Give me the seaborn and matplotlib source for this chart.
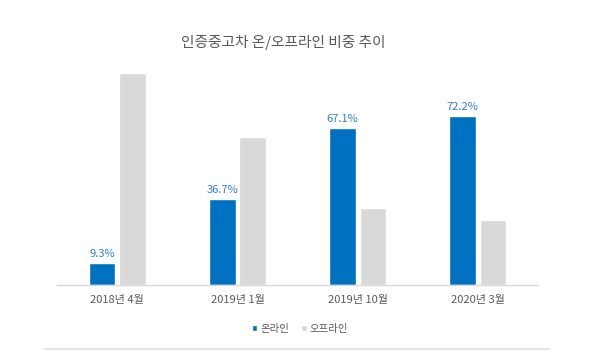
import pandas as pd
import matplotlib
matplotlib.use("Agg")
import matplotlib.pyplot as plt
from matplotlib.lines import Line2D
from matplotlib.patches import Patch
import seaborn as sns

# data
periods = ["2018년 4월", "2019년 1월", "2019년 10월", "2020년 3월"]
online = [9.3, 36.7, 67.1, 72.2]
offline = [90.7, 63.3, 32.9, 27.8]
series_names = ["온라인", "오프라인"]
title = "인증중고차 온/오프라인 비중 추이"

blue = "#0070C0"
gray = "#D9D9D9"
text_gray = "#595959"

sns.set_style("white")
plt.rcParams["font.family"] = ["Noto Sans CJK KR", "DejaVu Sans"]

df = pd.DataFrame({
    "기간": periods * 2,
    "비중": online + offline,
    "구분": [series_names[0]] * len(periods) + [series_names[1]] * len(periods),
})

fig = plt.figure(figsize=(5.99, 3.56), dpi=100)
ax = fig.add_axes([0.0957, 0.1994, 0.802, 0.6559])

sns.barplot(data=df, x="기간", y="비중", hue="구분", palette=[blue, gray],
            saturation=1, width=0.505, gap=0.13, ax=ax, legend=False)

ax.set_ylim(0, 100)
ax.set_xlim(-0.5, len(periods) - 0.5)
ax.set_xlabel("")
ax.set_ylabel("")
ax.set_yticks([])
for s in ["top", "right", "left"]:
    ax.spines[s].set_visible(False)
ax.spines["bottom"].set_color("#D9D9D9")
ax.spines["bottom"].set_linewidth(1)
ax.tick_params(axis="x", length=0, pad=7, labelsize=8, labelcolor=text_gray)

# labels only on the online bars
ax.bar_label(ax.containers[0], labels=[f"{v}%" for v in online],
             padding=3, fontsize=8, color="#2F7DC1")

fig.text(283 / 599, 1 - 42 / 356, title, ha="center", va="center",
         fontsize=10.6, color=text_gray)

handles = [Patch(facecolor=blue), Patch(facecolor=gray)]
fig.legend(handles, series_names, loc="center", bbox_to_anchor=(300 / 599, 1 - 329 / 356),
           ncol=2, frameon=False, fontsize=7.5, labelcolor=text_gray,
           handlelength=0.5, handleheight=0.5, handletextpad=0.3, columnspacing=1.2)

fig.add_artist(Line2D([45 / 599, 549 / 599], [1 - 349 / 356] * 2,
                      color="#E6E6E6", lw=1.5))

fig.savefig("out.png", dpi=100)
